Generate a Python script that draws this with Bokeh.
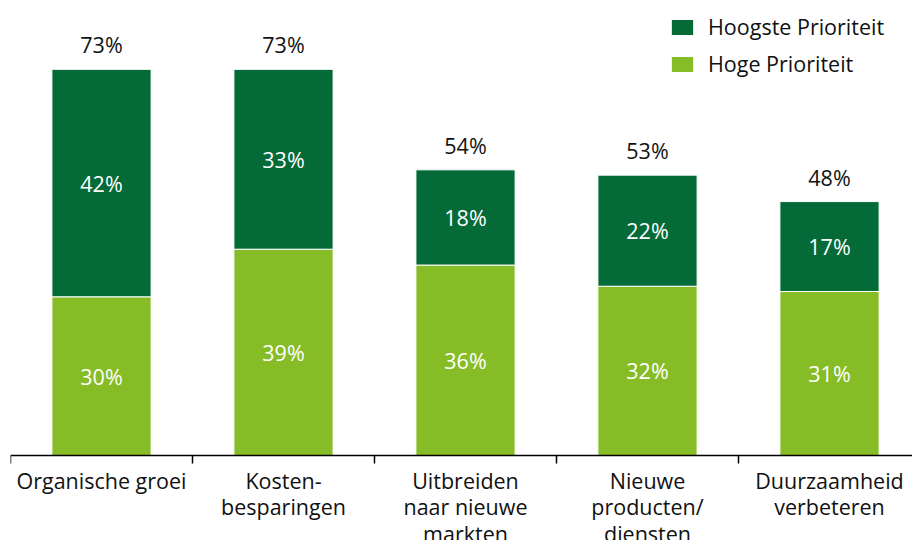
from bokeh.plotting import figure
from bokeh.models import ColumnDataSource, Range1d, FixedTicker, Legend, LegendItem
from bokeh.core.properties import value
from bokeh.embed import file_html
from bokeh.resources import INLINE

categories = ["Organische groei", "Kosten-\nbesparingen", "Uitbreiden\nnaar nieuwe\nmarkten",
              "Nieuwe\nproducten/\ndiensten", "Duurzaamheid\nverbeteren"]
hoge = [30, 39, 36, 32, 31]          # Hoge Prioriteit
hoogste = [42, 33, 18, 22, 17]       # Hoogste Prioriteit
totaal = [73, 73, 54, 53, 48]

DARK = "#046A38"
LIGHT = "#86BC25"
FONT = "Open Sans"
FS = "21.5px"

n = len(categories)
xs = [i + 0.5 for i in range(n)]
top_seg = [t - h for t, h in zip(totaal, hoge)]

src = ColumnDataSource(dict(
    x=xs, hoge=hoge, top_seg=top_seg, totaal=totaal,
    hoge_y=[h / 2 for h in hoge],
    hoogste_y=[h + (t - h) / 2 for h, t in zip(hoge, totaal)],
    hoge_lbl=[f"{v}%" for v in hoge],
    hoogste_lbl=[f"{v}%" for v in hoogste],
    tot_lbl=[f"{v}%" for v in totaal],
))

PX = 5.29  # pixels per percent
p = figure(width=912, height=540, output_backend="svg", toolbar_location=None,
           x_range=Range1d(0, 902 / 182), y_range=Range1d(-85 / PX, 455 / PX),
           min_border_left=10, min_border_right=0, min_border_top=0, min_border_bottom=0)

r = p.vbar_stack(["hoge", "top_seg"], x="x", width=0.545, source=src,
                 color=[LIGHT, DARK], line_color="white", line_width=1)

p.text(x="x", y="hoge_y", text="hoge_lbl", source=src, text_color="white",
       text_font=value(FONT), text_font_size=FS, text_align="center", text_baseline="middle")
p.text(x="x", y="hoogste_y", text="hoogste_lbl", source=src, text_color="white",
       text_font=value(FONT), text_font_size=FS, text_align="center", text_baseline="middle")
p.text(x="x", y="totaal", text="tot_lbl", source=src, text_color="#111111", y_offset=-10,
       text_font=value(FONT), text_font_size=FS, text_align="center", text_baseline="bottom")

p.xgrid.visible = False
p.ygrid.visible = False
p.yaxis.visible = False
p.outline_line_color = None

ax = p.xaxis[0]
ax.fixed_location = 0
ax.ticker = FixedTicker(ticks=xs, minor_ticks=list(range(n + 1)))
ax.major_label_overrides = {x: c for x, c in zip(xs, categories)}
ax.major_tick_out = 0
ax.major_tick_in = 0
ax.minor_tick_out = 8
ax.minor_tick_in = 0
ax.minor_tick_line_color = "black"
ax.minor_tick_line_width = 1.5
ax.axis_line_color = "black"
ax.axis_line_width = 1.5
ax.major_label_text_font = FONT
ax.major_label_text_font_size = FS
ax.major_label_text_color = "#111111"
ax.major_label_text_line_height = 0.92
ax.major_label_standoff = 2

legend = Legend(items=[LegendItem(label="Hoogste Prioriteit", renderers=[r[1]]),
                       LegendItem(label="Hoge Prioriteit", renderers=[r[0]])],
                location="top_right", orientation="vertical",
                glyph_width=28, glyph_height=20, label_height=26, label_width=192,
                label_standoff=12, spacing=8, padding=4, margin=12,
                label_text_font=FONT, label_text_font_size=FS, label_text_color="#111111",
                border_line_color=None, background_fill_alpha=0)
p.add_layout(legend)

open("out.html", "w").write(file_html(p, INLINE))
